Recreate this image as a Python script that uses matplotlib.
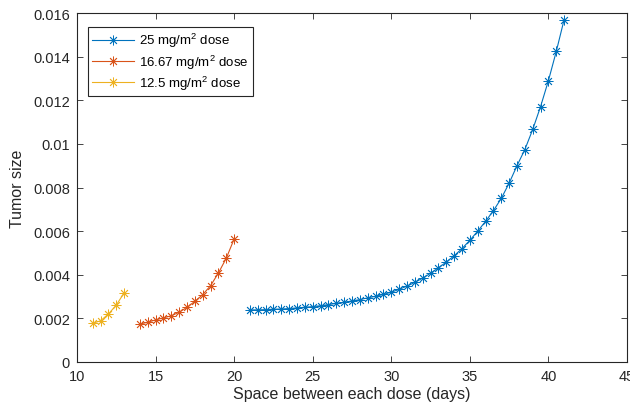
import numpy as np
import matplotlib
matplotlib.use('Agg')
import matplotlib.pyplot as plt
from matplotlib.ticker import FormatStrFormatter, MultipleLocator

plt.rcParams['font.family'] = ['Liberation Sans', 'DejaVu Sans']
plt.rcParams['mathtext.default'] = 'regular'

# days between doses and resulting tumor size, one series per dose level
days_low = [11, 11.5, 12, 12.5, 13]
size_low = [0.00177, 0.00189, 0.00220, 0.00261, 0.00317]

days_mid = [14, 14.5, 15, 15.5, 16, 16.5, 17, 17.5, 18, 18.5, 19, 19.5, 20]
size_mid = [0.00174, 0.00182, 0.00193, 0.00202, 0.00212, 0.00228, 0.00251,
            0.00278, 0.00309, 0.00350, 0.00408, 0.00476, 0.00564]

days_high = [21, 21.5, 22, 22.5, 23, 23.5, 24, 24.5, 25, 25.5, 26, 26.5, 27,
             27.5, 28, 28.5, 29, 29.5, 30, 30.5, 31, 31.5, 32, 32.5, 33, 33.5,
             34, 34.5, 35, 35.5, 36, 36.5, 37, 37.5, 38, 38.5, 39, 39.5, 40,
             40.5, 41]
size_high = [0.00239, 0.00239, 0.00240, 0.00242, 0.00243, 0.00245, 0.00248,
             0.00251, 0.00254, 0.00258, 0.00263, 0.00269, 0.00274, 0.00280,
             0.00286, 0.00294, 0.00301, 0.00310, 0.00320, 0.00333, 0.00348,
             0.00365, 0.00385, 0.00407, 0.00432, 0.00458, 0.00487, 0.00520,
             0.00558, 0.00600, 0.00645, 0.00694, 0.00750, 0.00820, 0.00900,
             0.00974, 0.01066, 0.01171, 0.01290, 0.01424, 0.01570]

labels = ['25 mg/m$^2$ dose', '16.67 mg/m$^2$ dose', '12.5 mg/m$^2$ dose']
colors = ['#0072BD', '#D95319', '#EDB120']

star = (8, 2, 0)  # eight-armed asterisk

fig = plt.figure(figsize=(6.3, 4.1), dpi=100)
ax = fig.add_axes([77/630, 1 - 363/410, 550/630, 349/410])

for x, y, c, lab in zip([days_high, days_mid, days_low],
                        [size_high, size_mid, size_low], colors, labels):
    ax.plot(x, y, color=c, lw=0.8, marker=star, ms=7, mew=0.6, label=lab)

ax.set_xlim(10, 45)
ax.set_ylim(0, 0.016)
ax.xaxis.set_major_locator(MultipleLocator(5))
ax.yaxis.set_major_locator(MultipleLocator(0.002))
ax.yaxis.set_major_formatter(FormatStrFormatter('%g'))

gray = '#262626'
for s in ax.spines.values():
    s.set_color(gray)
    s.set_linewidth(0.8)
ax.tick_params(direction='in', length=4, width=0.6, colors=gray,
               labelsize=10.5, top=True, right=True, pad=5)

ax.set_xlabel('Space between each dose (days)', fontsize=11.5, color=gray, labelpad=2)
ax.set_ylabel('Tumor size', fontsize=11.5, color=gray, labelpad=6)

leg = ax.legend(loc='upper left', bbox_to_anchor=(0.02, 0.96), fontsize=9.5,
                frameon=True, fancybox=False, framealpha=1, edgecolor=gray,
                handlelength=3.2, borderpad=0.3, labelspacing=0.25,
                handletextpad=0.4, borderaxespad=0)
leg.get_frame().set_linewidth(0.8)

fig.savefig('out.png', dpi=100)
